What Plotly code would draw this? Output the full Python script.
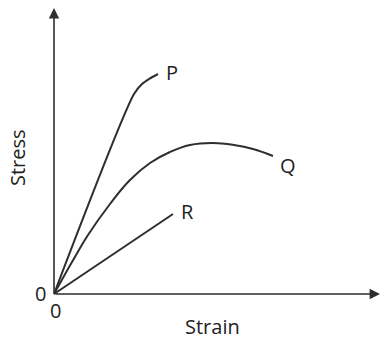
import plotly.graph_objects as go

# Curves (arbitrary strain / stress units)
p_strain = [0.0, 8.0, 8.8, 9.5, 10.4]
p_stress = [0.0, 20.0, 21.0, 21.5, 22.0]

q_strain = [0.0, 1.8, 3.4, 5.6, 7.6, 9.6, 11.6, 13.6, 15.9, 18.0, 19.9, 21.9]
q_stress = [0.0, 3.2, 5.9, 9.0, 11.4, 13.1, 14.2, 14.9, 15.1, 14.9, 14.5, 13.8]

r_strain = [0.0, 11.9]
r_stress = [0.0, 8.0]

labels = ["P", "Q", "R"]
label_x = [11.8, 23.4, 13.3]
label_y = [22.2, 12.9, 8.3]

x_axis_end = 32.6
y_axis_end = 28.6

line_col = "#2e2e2e"
font = dict(family="Open Sans", size=20, color="#222222")

fig = go.Figure()
for xs, ys, sm in [(p_strain, p_stress, 0.8), (q_strain, q_stress, 1.2), (r_strain, r_stress, 0.8)]:
    fig.add_trace(go.Scatter(x=xs, y=ys, mode="lines", line=dict(color=line_col, width=2, shape="spline", smoothing=sm),
                             hoverinfo="skip", showlegend=False))

# axes with arrows
fig.add_annotation(x=x_axis_end, y=0, ax=0, ay=0, xref="x", yref="y", axref="x", ayref="y",
                   showarrow=True, arrowhead=2, arrowsize=1.3, arrowwidth=1.6, arrowcolor=line_col, text="")
fig.add_annotation(x=0, y=y_axis_end, ax=0, ay=0, xref="x", yref="y", axref="x", ayref="y",
                   showarrow=True, arrowhead=2, arrowsize=1.3, arrowwidth=1.6, arrowcolor=line_col, text="")

for t, x, y in zip(labels, label_x, label_y):
    fig.add_annotation(x=x, y=y, text=t, showarrow=False, font=font)

fig.add_annotation(x=-1.4, y=0.1, text="0", showarrow=False, font=font)
fig.add_annotation(x=0.1, y=-1.6, text="0", showarrow=False, font=font)
fig.add_annotation(x=15.8, y=-3.2, text="Strain", showarrow=False, font=font)
fig.add_annotation(x=-3.7, y=13.6, text="Stress", showarrow=False, font=font, textangle=-90)

fig.update_layout(
    width=386, height=345,
    margin=dict(l=0, r=0, t=0, b=0),
    paper_bgcolor="white", plot_bgcolor="white",
    xaxis=dict(range=[-5.4, 33.2], visible=False, fixedrange=True),
    yaxis=dict(range=[-5.1, 29.4], visible=False, fixedrange=True),
)

fig.write_html("out.html")
